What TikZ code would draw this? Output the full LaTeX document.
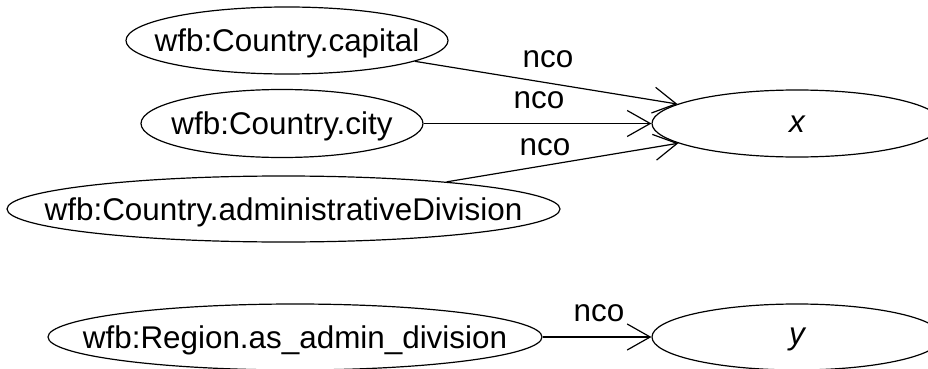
\documentclass[tikz,border=0pt]{standalone}
\usepackage{fontspec}
\setmainfont{Liberation Sans}
\usetikzlibrary{shapes.geometric,arrows.meta}
\begin{document}
\begin{tikzpicture}[x=1pt,y=-1pt,
  ell/.style={ellipse, draw, line width=1.2pt, inner sep=0pt,
    font=\fontsize{31.4}{36}\selectfont, text height=22.5pt, text depth=0pt},
  lbl/.style={font=\fontsize{31.4}{36}\selectfont, inner sep=0pt,
    text height=16.3pt, text depth=0pt},
  edge/.style={draw, line width=1.2pt,
    -{Straight Barb[length=23pt, width=26pt, line width=1.2pt]}}]
\useasboundingbox (0,0) rectangle (928,369);
\clip (0,0) rectangle (928,369);
\node[ell, minimum width=322pt, minimum height=67pt] (cap) at (287,40.5) {\makebox[0pt]{wfb:Country.capital}};
\node[ell, minimum width=282pt, minimum height=68pt] (city) at (282,123.5) {\makebox[0pt]{wfb:Country.city}};
\node[ell, minimum width=553pt, minimum height=66pt] (adm) at (283.5,209) {\makebox[0pt]{wfb:Country.administrativeDivision}};
\node[ell, minimum width=494pt, minimum height=66pt] (reg) at (295,337) {\makebox[0pt]{wfb:Region.as\_admin\_division}};
\node[ell, minimum width=290pt, minimum height=67pt, text height=18pt] (x) at (797,123.5) {\makebox[0pt]{\itshape x}};
\node[ell, minimum width=290pt, minimum height=66pt, text height=15pt] (y) at (797,337) {\makebox[0pt]{\itshape y}};
\draw[edge] (cap) -- (x);
\draw[edge] (city) -- (x);
\draw[edge] (adm) -- (x);
\draw[edge] (reg) -- (y);
\node[lbl] (l1) at (548,59) {nco};
\node[lbl] (l2) at (539,100) {nco};
\node[lbl] (l3) at (545,147) {nco};
\node[lbl] (l4) at (599,313) {nco};
\end{tikzpicture}
\end{document}
